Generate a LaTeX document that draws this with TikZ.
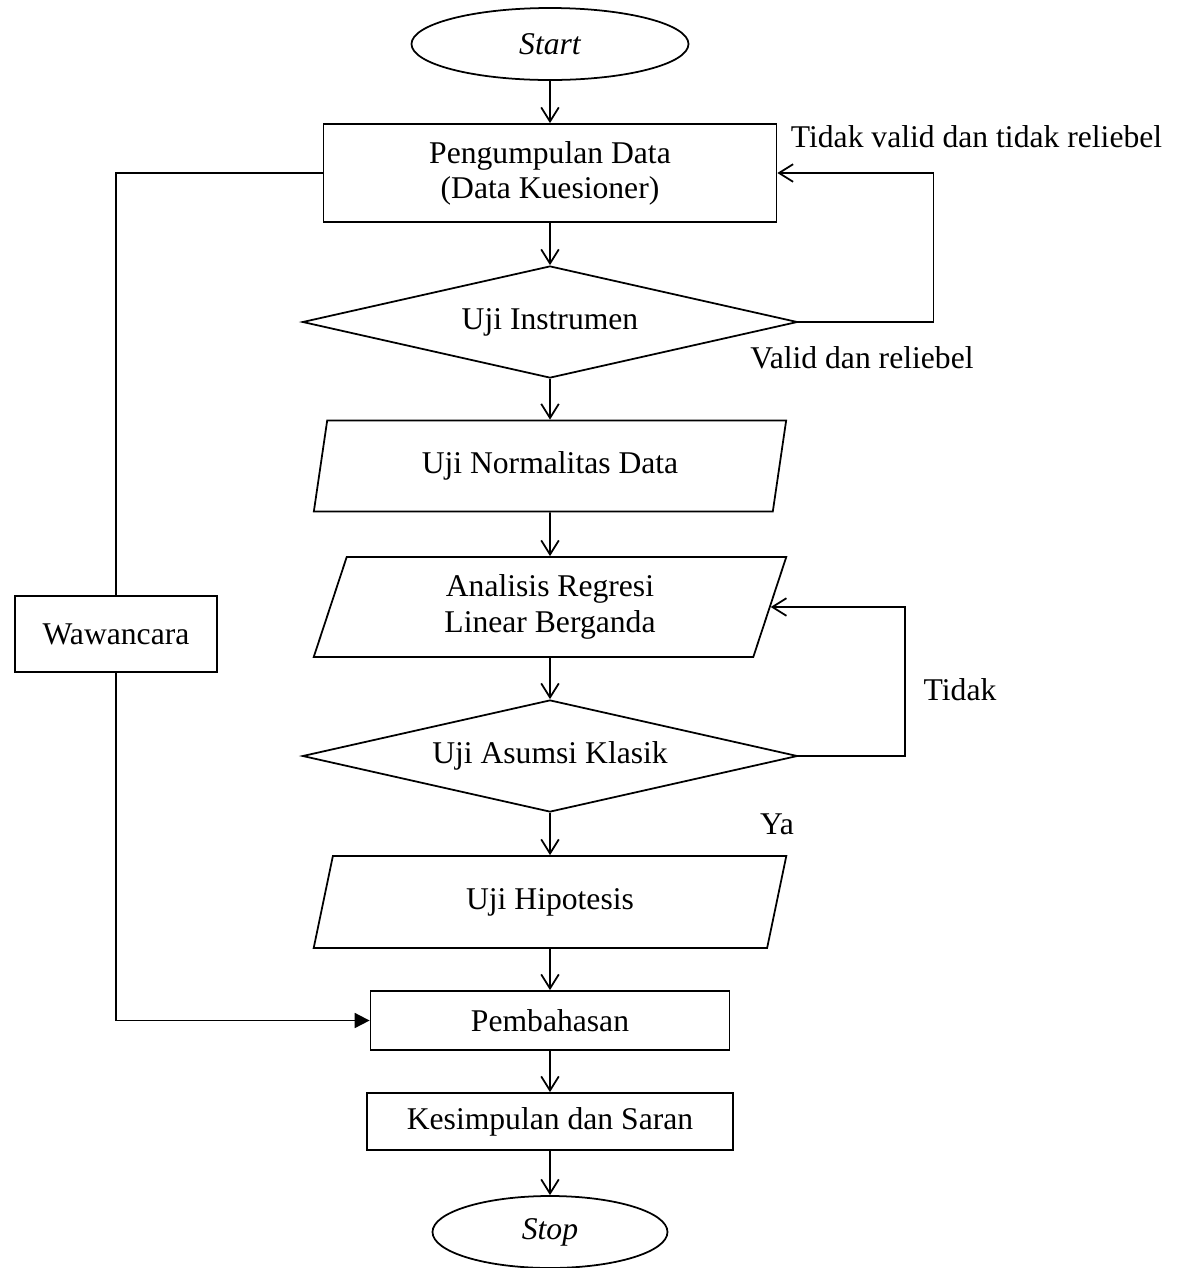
\documentclass[tikz,border=0pt]{standalone}
\usepackage{fontspec}
\setmainfont{Liberation Serif}
\usetikzlibrary{arrows.meta,shapes.geometric}

\begin{document}
\begin{tikzpicture}[
    font=\fontsize{18}{20}\selectfont,
    line width=1pt,
    every node/.style={inner sep=0pt},
    terminal/.style={draw,ellipse,minimum width=#1,minimum height=1.44cm,font=\fontsize{18}{20}\selectfont\itshape},
    process/.style={draw,rectangle,align=center},
    io/.style={draw,trapezium,trapezium left angle=75,trapezium right angle=105,
               trapezium stretches=true,minimum width=9.46cm,align=center},
    decision/.style={draw,diamond,aspect=4.4,minimum width=9.9cm,minimum height=2.24cm},
    flow/.style={-{Straight Barb[length=8pt,width=10pt]}},
    mergeflow/.style={-{Triangle[length=8.5pt,width=8.5pt]}}
  ]
  \useasboundingbox (0,0) rectangle (23.6,-25.36);

  \node[terminal=5.54cm] (start) at (11.0,-0.88) {Start};
  \node[process,minimum width=9.06cm,minimum height=1.96cm] (data) at (11.0,-3.46)
    {Pengumpulan Data\\(Data Kuesioner)};
  \node[decision] (instrumen) at (11.0,-6.44) {Uji Instrumen};
  \node[io,minimum height=1.82cm] (normal) at (11.0,-9.32) {Uji Normalitas Data};
  \node[io,minimum height=2.0cm] (regresi) at (11.0,-12.14) {Analisis Regresi\\Linear Berganda};
  \node[decision] (asumsi) at (11.0,-15.12) {Uji Asumsi Klasik};
  \node[io,minimum height=1.84cm] (hipotesis) at (11.0,-18.04) {Uji Hipotesis};
  \node[process,minimum width=7.18cm,minimum height=1.18cm] (bahas) at (11.0,-20.41) {Pembahasan};
  \node[process,minimum width=7.32cm,minimum height=1.14cm] (simpulan) at (11.0,-22.43) {Kesimpulan dan Saran};
  \node[terminal=4.7cm] (stop) at (11.0,-24.64) {Stop};
  \node[process,minimum width=4.04cm,minimum height=1.52cm] (wawancara) at (2.32,-12.68) {Wawancara};

  \node[anchor=west] (lbltidakvalid) at (15.8,-2.74) {Tidak valid dan tidak reliebel};
  \node (lblvalid) at (17.24,-7.16) {Valid dan reliebel};
  \node (lbltidak) at (19.2,-13.8) {Tidak};
  \node (lblya) at (15.54,-16.48) {Ya};

  \draw[flow] (start) -- (data);
  \draw[flow] (data) -- (instrumen);
  \draw[flow] (instrumen) -- (normal);
  \draw[flow] (normal) -- (regresi);
  \draw[flow] (regresi) -- (asumsi);
  \draw[flow] (asumsi) -- (hipotesis);
  \draw[flow] (hipotesis) -- (bahas);
  \draw[flow] (bahas) -- (simpulan);
  \draw[flow] (simpulan) -- (stop);

  \draw[flow] (instrumen.east) -- ++(2.7,0) |- (data.east);
  \draw[flow] (asumsi.east) -- ++(2.13,0) |- (regresi.east);

  \draw (data.west) -| (wawancara.north);
  \draw[mergeflow] (wawancara.south) |- (bahas.west);
\end{tikzpicture}
\end{document}
